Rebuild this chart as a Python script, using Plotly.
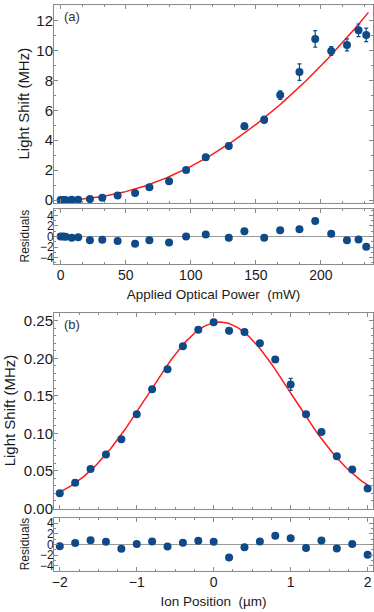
import numpy as np
import plotly.graph_objects as go

# ---------------- Panel (a) data ----------------
power_mw = [0, 2.0, 3.8, 8.5, 13.5, 22.5, 32, 43.8, 57.2, 68.2, 83.3, 96.4,
            111.5, 129.2, 141.2, 156.4, 168.7, 183.5, 195.6, 207.9, 220, 228.9, 234.8]
shift_a = [0.0, 0.0, 0.0, 0.01, 0.02, 0.06, 0.15, 0.30, 0.47, 0.85, 1.25, 2.01,
           2.86, 3.62, 4.94, 5.37, 7.02, 8.56, 10.78, 9.97, 10.38, 11.36, 11.05]
err_a = [0.01, 0.01, 0.01, 0.01, 0.02, 0.03, 0.04, 0.05, 0.07, 0.08, 0.10, 0.12,
         0.14, 0.17, 0.20, 0.22, 0.28, 0.55, 0.55, 0.30, 0.40, 0.42, 0.45]
resid_a = [0.0, 0.0, -0.05, -0.25, -0.12, -0.69, -0.62, -0.87, -1.37, -0.69, -1.12, 0.0,
           0.37, -0.25, 1.0, -0.25, 1.19, 1.37, 2.94, 0.5, -0.69, -0.56, -1.94]
fit_a_coef = 2.245e-4      # quadratic fit coefficient (MHz / mW^2)
fit_a_xmax = 236.5

# ---------------- Panel (b) data ----------------
position_um = [-2.0, -1.8, -1.6, -1.4, -1.2, -1.0, -0.8, -0.6, -0.4, -0.2, 0.0,
               0.2, 0.4, 0.6, 0.8, 1.0, 1.2, 1.4, 1.6, 1.8, 2.0]
shift_b = [0.0201, 0.0342, 0.0523, 0.0718, 0.0921, 0.1256, 0.1587, 0.1856, 0.2161, 0.2382, 0.2483,
           0.2369, 0.2351, 0.2201, 0.1985, 0.1653, 0.1256, 0.1018, 0.0695, 0.0519, 0.0263]
err_b = [0.003] * 15 + [0.008] + [0.003] * 5
resid_b = [-0.35, 0.24, 0.77, 0.47, -0.83, 0.06, 0.53, -0.41, 0.30, 0.65, 0.47,
           -2.49, -0.53, 0.53, 1.6, 1.12, -0.71, 0.71, -0.77, 0.06, -1.95]
fit_b_amp, fit_b_center, fit_b_sigma = 0.2485, 0.08, 0.94

MARK = "#0d4a87"
FIT = "#ff1a1a"
FRAME = "#8a8a8a"
TXT = "#1a1a1a"
FONT = "Liberation Sans, Arial, sans-serif"

fig = go.Figure()

# Panel (a)
xa = np.linspace(0, fit_a_xmax, 200)
fig.add_trace(go.Scatter(x=xa, y=fit_a_coef * xa**2, mode="lines",
                         line=dict(color=FIT, width=1.5), xaxis="x", yaxis="y"))
fig.add_trace(go.Scatter(x=power_mw, y=shift_a, mode="markers",
                         marker=dict(color=MARK, size=8),
                         error_y=dict(type="data", array=err_a, color=MARK, thickness=1.2, width=2),
                         xaxis="x", yaxis="y"))
fig.add_trace(go.Scatter(x=power_mw, y=resid_a, mode="markers",
                         marker=dict(color=MARK, size=8), xaxis="x2", yaxis="y2"))

# Panel (b)
xb = np.linspace(-2, 2, 200)
fig.add_trace(go.Scatter(x=xb, y=fit_b_amp * np.exp(-(xb - fit_b_center)**2 / (2 * fit_b_sigma**2)),
                         mode="lines", line=dict(color=FIT, width=1.5), xaxis="x3", yaxis="y3"))
fig.add_trace(go.Scatter(x=position_um, y=shift_b, mode="markers",
                         marker=dict(color=MARK, size=8),
                         error_y=dict(type="data", array=err_b, color=MARK, thickness=1.2, width=2),
                         xaxis="x3", yaxis="y3"))
fig.add_trace(go.Scatter(x=position_um, y=resid_b, mode="markers",
                         marker=dict(color=MARK, size=8), xaxis="x4", yaxis="y4"))


def ax(**kw):
    d = dict(showline=True, linecolor=FRAME, linewidth=1, mirror="allticks",
             ticks="inside", ticklen=4, tickcolor=FRAME, tickwidth=1,
             showgrid=False, zeroline=False, automargin=False,
             tickfont=dict(family=FONT, size=14, color=TXT),
             minor=dict(ticks="inside", ticklen=2, tickcolor=FRAME, showgrid=False))
    d.update(kw)
    return d

xr_a = [-5.1, 240]
xr_b = [-2.075, 2.07]
YSO = -3   # y tick label standoff
XSO = -2   # x tick label standoff

fig.update_layout(
    width=374, height=612,
    margin=dict(l=54, r=1, t=5, b=41),
    paper_bgcolor="white", plot_bgcolor="white",
    showlegend=False,
    font=dict(family=FONT, color=TXT),
    xaxis=ax(domain=[0, 1], anchor="y", range=xr_a, dtick=50, showticklabels=False,
             minor=dict(ticks="inside", ticklen=2, tickcolor=FRAME, dtick=50 / 3)),
    yaxis=ax(domain=[0.6502, 1.0], anchor="x", range=[-0.2, 13.05], dtick=2,
             ticklabelstandoff=YSO,
             tickfont=dict(family=FONT, size=15, color=TXT),
             minor=dict(ticks="inside", ticklen=2, tickcolor=FRAME, dtick=1)),
    xaxis2=ax(domain=[0, 1], anchor="y2", range=xr_a, dtick=50, ticklabelstandoff=XSO,
              minor=dict(ticks="inside", ticklen=2, tickcolor=FRAME, dtick=50 / 3),
              title=dict(text="Applied Optical Power  (mW)", standoff=7,
                         font=dict(family=FONT, size=13.5, color=TXT))),
    yaxis2=ax(domain=[0.5424, 0.6396], anchor="x2", range=[-5.2, 5.2], dtick=2,
              ticklabelstandoff=YSO,
              tickfont=dict(family=FONT, size=12, color=TXT),
              minor=dict(ticks="inside", ticklen=2, tickcolor=FRAME, dtick=1),
              zeroline=True, zerolinecolor="#999999", zerolinewidth=1),
    xaxis3=ax(domain=[0, 1], anchor="y3", range=xr_b, dtick=1, showticklabels=False,
              minor=dict(ticks="inside", ticklen=2, tickcolor=FRAME, dtick=0.25)),
    yaxis3=ax(domain=[0.1095, 0.4564], anchor="x3", range=[-0.001, 0.261], dtick=0.05,
              tickformat=".2f", ticklabelstandoff=YSO,
              tickfont=dict(family=FONT, size=15, color=TXT),
              minor=dict(ticks="inside", ticklen=2, tickcolor=FRAME, dtick=0.01)),
    xaxis4=ax(domain=[0, 1], anchor="y4", range=xr_b, dtick=1, ticklabelstandoff=XSO,
              minor=dict(ticks="inside", ticklen=2, tickcolor=FRAME, dtick=0.25),
              title=dict(text="Ion Position  (µm)", standoff=7,
                         font=dict(family=FONT, size=13.5, color=TXT))),
    yaxis4=ax(domain=[0.0, 0.0942], anchor="x4", range=[-5.0, 5.0], dtick=2,
              ticklabelstandoff=YSO,
              tickfont=dict(family=FONT, size=12, color=TXT),
              minor=dict(ticks="inside", ticklen=2, tickcolor=FRAME, dtick=1),
              zeroline=True, zerolinecolor="#999999", zerolinewidth=1),
)

ann_font = dict(family=FONT, size=15, color=TXT)
res_font = dict(family=FONT, size=12, color=TXT)
lab_font = dict(family=FONT, size=13, color="#333333")
fig.add_annotation(text="Light Shift (MHz)", textangle=-90, xref="paper", yref="paper",
                   x=(23.5 - 54) / 319, y=(0.6502 + 1.0) / 2, showarrow=False,
                   xanchor="center", yanchor="middle", font=ann_font)
fig.add_annotation(text="Residuals", textangle=-90, xref="paper", yref="paper",
                   x=(25 - 54) / 319, y=(0.5424 + 0.6396) / 2, showarrow=False,
                   xanchor="center", yanchor="middle", font=res_font)
fig.add_annotation(text="Light Shift (MHz)", textangle=-90, xref="paper", yref="paper",
                   x=(9.5 - 54) / 319, y=(0.1095 + 0.4564) / 2, showarrow=False,
                   xanchor="center", yanchor="middle", font=ann_font)
fig.add_annotation(text="Residuals", textangle=-90, xref="paper", yref="paper",
                   x=(25 - 54) / 319, y=0.0942 / 2, showarrow=False,
                   xanchor="center", yanchor="middle", font=res_font)
fig.add_annotation(text="(a)", xref="paper", yref="paper", x=(71.7 - 54) / 319,
                   y=1 - (16.7 - 5) / 566, showarrow=False, xanchor="center",
                   yanchor="middle", font=lab_font)
fig.add_annotation(text="(b)", xref="paper", yref="paper", x=(71.7 - 54) / 319,
                   y=(571 - 324) / 566, showarrow=False, xanchor="center",
                   yanchor="middle", font=lab_font)

fig.write_html("out.html", config={"displayModeBar": False},
               post_script="document.body.style.margin='0';document.body.style.overflow='hidden';")
